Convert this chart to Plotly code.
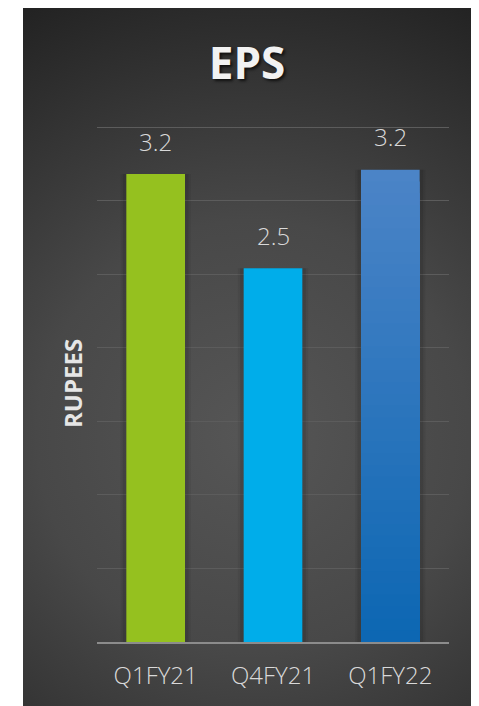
import base64
import plotly.graph_objects as go

categories = ["Q1FY21", "Q4FY21", "Q1FY22"]
eps_values = [3.18, 2.54, 3.21]
bar_colors = ["#95C11F", "#00ADEA", None]
gradient_top = (0x4B, 0x84, 0xC7)
gradient_bottom = (0x0B, 0x66, 0xB2)
y_ticks = [0, 0.5, 1.0, 1.5, 2.0, 2.5, 3.0, 3.5]

# page has an 8px body margin; figure coordinates are page coords minus 8
OFF = 8
W, H = 479 - OFF, 706 - OFF
L, T = 97 - OFF, 126 - OFF
R = W - (449 - OFF)
B = H - (642 - OFF)
PW, PH = W - L - R, H - T - B

fig = go.Figure()

# soft shadows behind bars
for w, a in [(0.60, 0.06), (0.56, 0.09)]:
    fig.add_trace(go.Bar(x=categories, y=eps_values, width=w,
                         marker=dict(color=f"rgba(0,0,0,{a})", line=dict(width=0)),
                         hoverinfo="skip", showlegend=False))

for c, v, col in zip(categories, eps_values, bar_colors):
    if col is not None:
        fig.add_trace(go.Bar(x=[c], y=[v], width=0.5,
                             marker=dict(color=col, line=dict(width=0)),
                             showlegend=False))
    else:
        N = 40
        for i in range(N):
            t = i / N
            rgb = tuple(round(gradient_top[k] + (gradient_bottom[k] - gradient_top[k]) * t) for k in range(3))
            fig.add_trace(go.Bar(x=[c], y=[v * (1 - t)], width=0.5,
                                 marker=dict(color="rgb(%d,%d,%d)" % rgb, line=dict(width=0)),
                                 hoverinfo="skip", showlegend=False))

for c, v in zip(categories, eps_values):
    fig.add_annotation(x=c, y=v, text=f"{v:.1f}", showarrow=False, yanchor="middle", yshift=33,
                       font=dict(family="Open Sans", size=24, color="#d9d9d9", weight=300))

fig.add_annotation(xref="paper", yref="paper", x=(72 - OFF - L) / PW, y=0.5, text="<b>RUPEES</b>",
                   textangle=-90, showarrow=False, xanchor="center", yanchor="middle",
                   font=dict(family="Open Sans", size=24, color="#e6e6e6"))

svg = ('<svg xmlns="http://www.w3.org/2000/svg" width="450" height="700">'
       '<defs><radialGradient id="g" gradientUnits="userSpaceOnUse" cx="230" cy="430" r="480">'
       '<stop offset="0" stop-color="#565656"/><stop offset="0.45" stop-color="#484848"/>'
       '<stop offset="1" stop-color="#232323"/></radialGradient></defs>'
       '<rect width="450" height="700" fill="url(#g)"/></svg>')
src = "data:image/svg+xml;base64," + base64.b64encode(svg.encode()).decode()
panel_l, panel_r, panel_t, panel_b = 23 - OFF, 473 - OFF, 6 - OFF, 706 - OFF
fig.add_layout_image(source=src, xref="paper", yref="paper",
                     x=(panel_l - L) / PW, y=(H - B - panel_t) / PH,
                     sizex=(panel_r - panel_l) / PW, sizey=(panel_b - panel_t) / PH,
                     xanchor="left", yanchor="top", sizing="stretch", layer="below")

fig.update_layout(
    width=W, height=H,
    margin=dict(l=L, r=R, t=T, b=B),
    paper_bgcolor="white", plot_bgcolor="rgba(0,0,0,0)",
    barmode="overlay", bargap=0.5,
    title=dict(text="<b>EPS</b>", x=(247 - OFF) / W, xanchor="center", y=1 - (64 - OFF) / H,
               yanchor="middle",
               font=dict(family="Open Sans", size=44, color="#f2f2f2",
                         shadow="2px 2px 3px rgba(0,0,0,0.7)")),
    xaxis=dict(showline=True, linecolor="#8c8c8c", linewidth=2, showgrid=False,
               tickfont=dict(family="Open Sans", size=24, color="#d9d9d9", weight=300),
               ticks="", ticklabelstandoff=11, fixedrange=True),
    yaxis=dict(range=[0, 3.507], tickvals=y_ticks, showticklabels=False, showgrid=True,
               gridcolor="#5c5c5c", gridwidth=1, zeroline=False, showline=False, ticks=""),
    showlegend=False,
)

fig.write_html("out.html")
